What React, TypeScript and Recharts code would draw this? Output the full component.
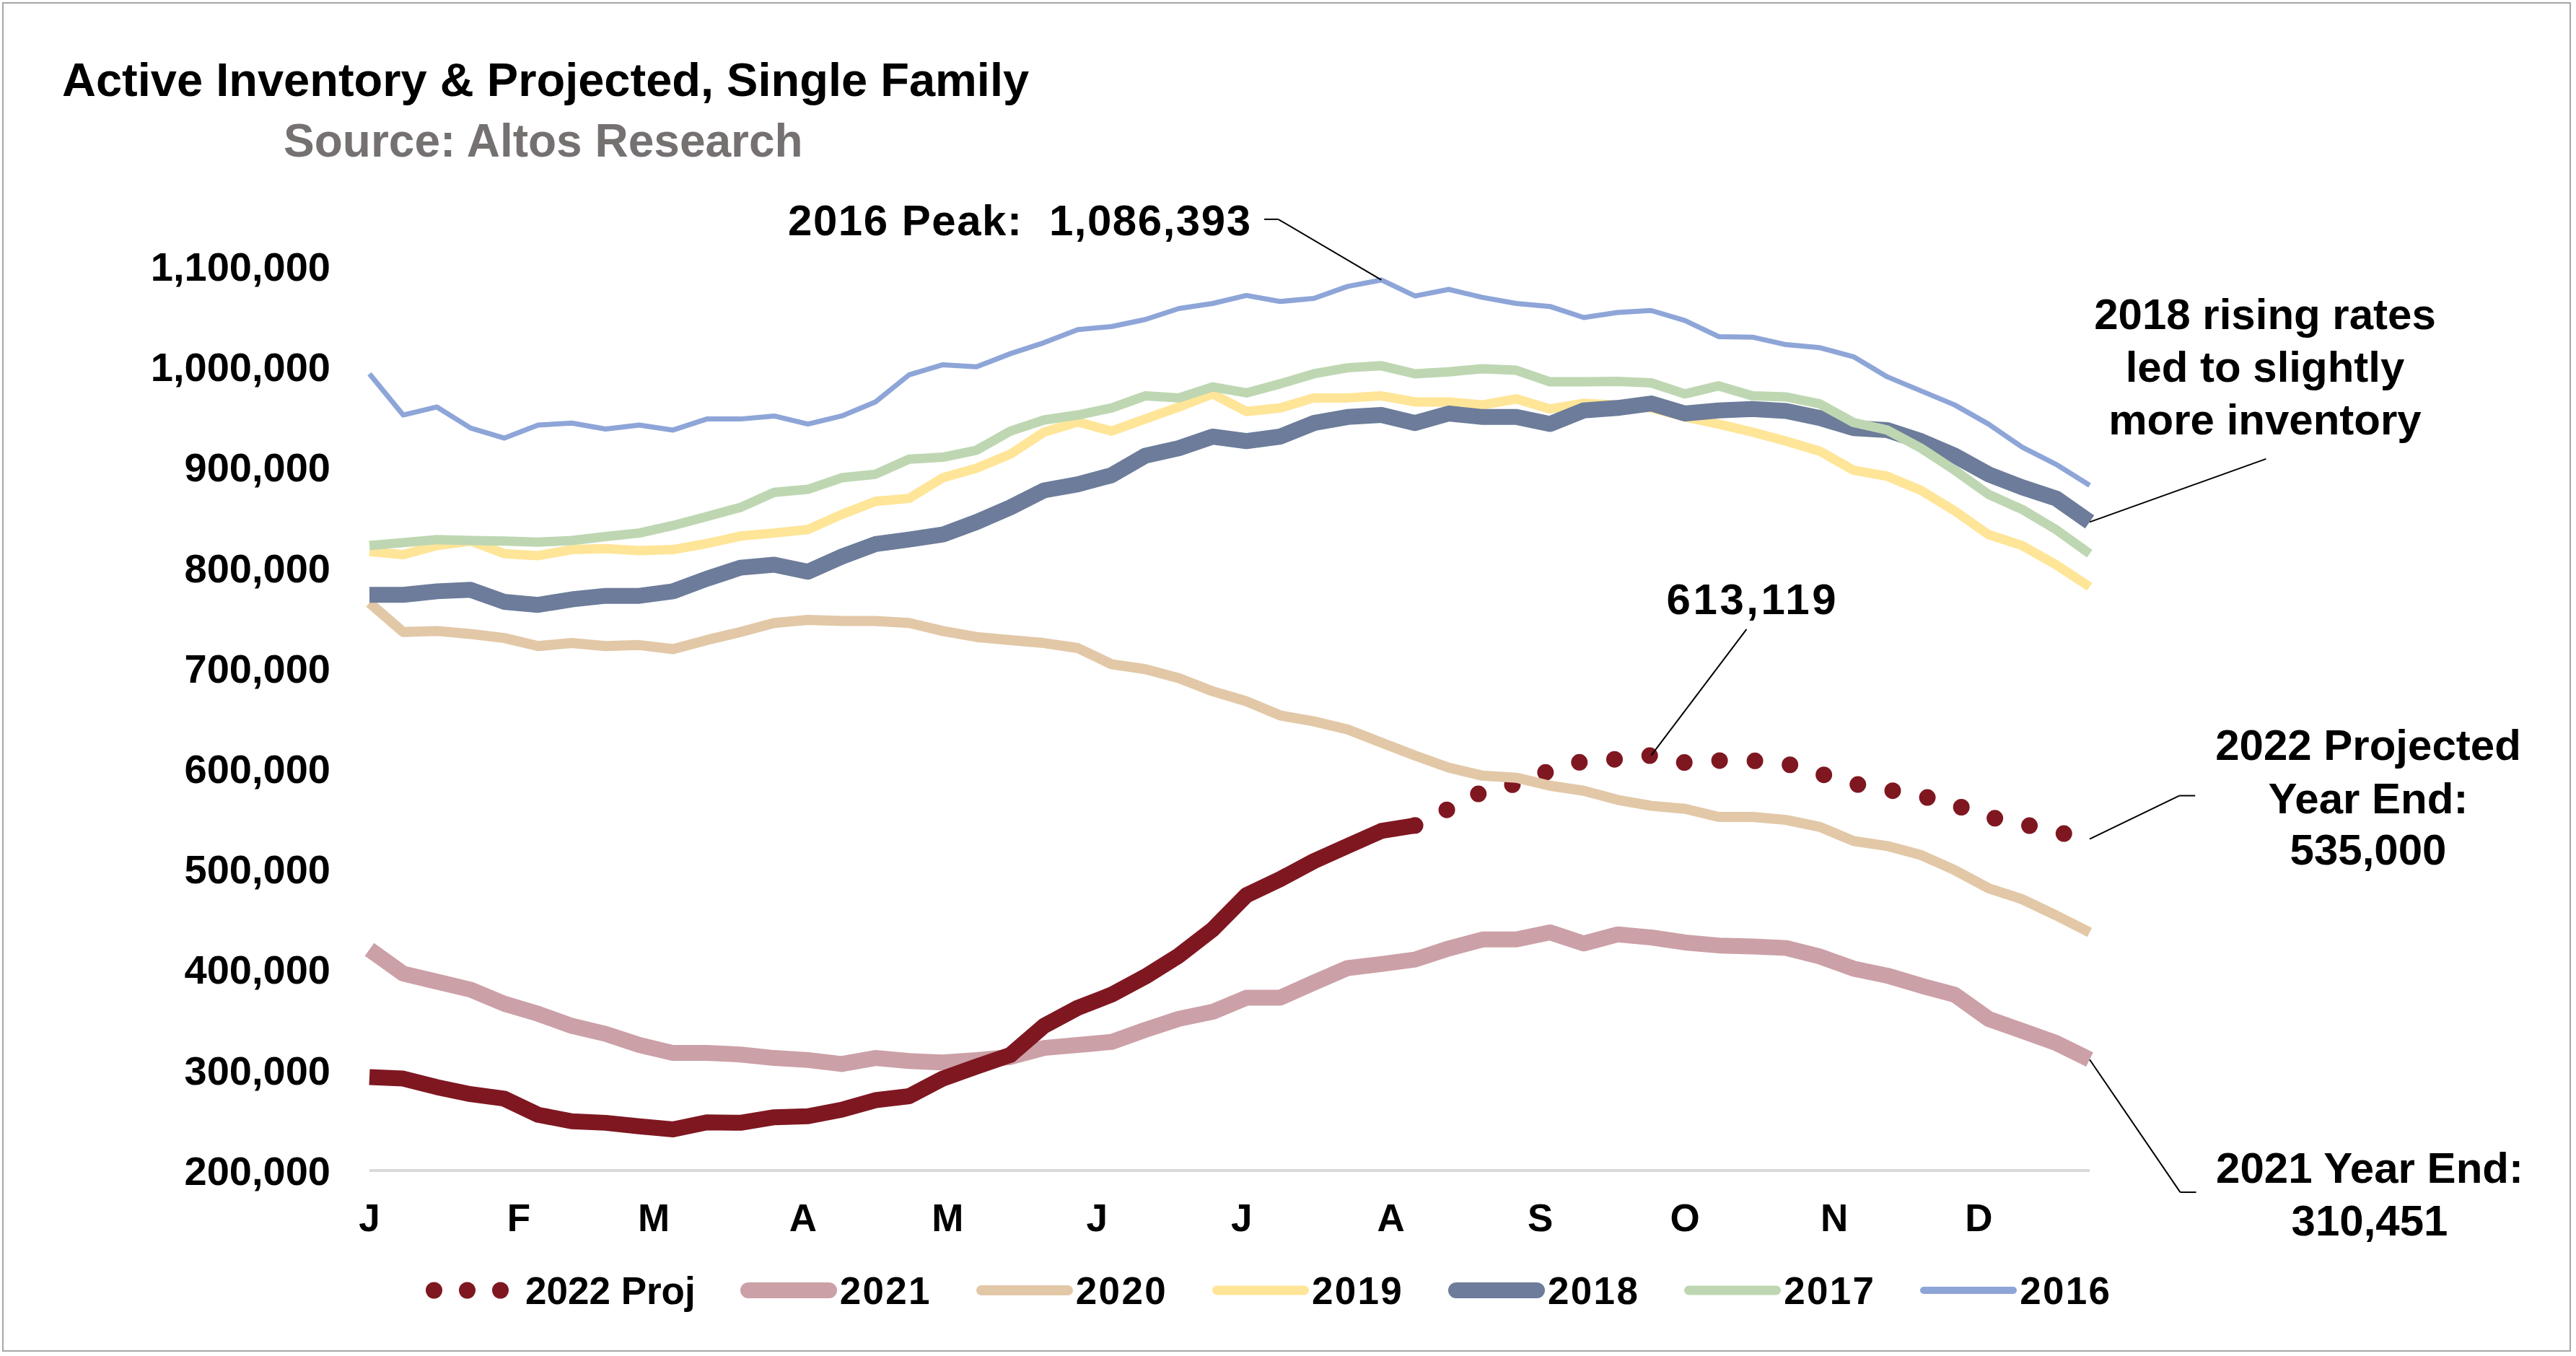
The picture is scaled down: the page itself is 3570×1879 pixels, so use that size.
import React from 'react';
import { LineChart, Line, XAxis, YAxis, ReferenceLine, Legend } from 'recharts';

const FONT = '"Liberation Sans", Arial, sans-serif';

// x axis: day of year, one reading per week
const monthStarts = [0, 31, 59, 90, 120, 151, 181, 212, 243, 273, 304, 334];
const monthLabels = ['J', 'F', 'M', 'A', 'M', 'J', 'J', 'A', 'S', 'O', 'N', 'D'];
const yTicks = [200000, 300000, 400000, 500000, 600000, 700000, 800000, 900000, 1000000, 1100000];

// weekly active inventory, thousands of single family homes
const inv2016 = [993, 952, 960, 939, 929, 942, 944, 938, 942, 937, 948, 948, 951, 943, 951, 965, 992, 1002, 1000, 1013, 1024, 1037, 1040, 1047, 1058, 1063, 1071, 1065, 1068, 1080, 1086.393, 1070.5, 1077, 1069, 1063, 1060, 1049, 1054, 1056, 1046, 1030, 1029.5, 1022, 1019, 1010, 990, 976, 962, 943, 920, 903, 882];
const inv2017 = [822, 825, 828, 827, 826.5, 825.5, 827, 831, 834.5, 842, 851, 860, 875, 878, 889.5, 893, 908, 910, 917, 936, 947, 952, 959, 971, 969, 980, 974, 983, 993, 999, 1001, 993, 995, 998, 996.5, 985, 985, 985.5, 984, 973, 981, 971, 970, 963, 944.5, 937, 919, 897, 873, 858, 838, 814];
const inv2018 = [773, 773, 776.5, 778, 766, 763, 768.5, 772, 772, 776.5, 789, 800, 803, 796, 811, 823.5, 828, 833, 845.5, 860, 877, 883, 892, 911.5, 919, 930.5, 926, 930.5, 944, 950, 952, 944, 953.5, 950, 950, 943, 956.5, 959, 963.5, 953.5, 956.5, 958, 956, 949, 939, 937, 926, 911.5, 893, 880, 869, 845.5];
const inv2019 = [816, 813, 822, 826.5, 814, 812, 818, 819, 817, 818, 824, 831.5, 834.5, 838, 853, 866, 869, 889.5, 899, 913, 935, 945, 936, 948, 960, 973, 955.5, 959, 969, 969, 971, 965, 965, 962, 968, 958, 963.5, 962, 959, 950, 943, 935, 926, 916, 897, 891, 877, 856.5, 833, 822, 803, 781];
const inv2020 = [765, 736, 737, 734, 730, 722, 725, 722, 723, 719, 728, 736, 745, 748, 747, 747, 745, 737, 731, 728, 725, 720, 704, 699, 690, 677, 667, 653, 647, 639, 626, 613, 601, 593, 591, 583, 578, 569, 563, 560, 552, 552, 549, 542, 528, 523, 514, 499, 481, 470, 454, 437];
const inv2021 = [420, 396, 388, 380, 366, 356, 344, 336, 325, 317, 317, 315.5, 312, 310, 306, 312, 309, 307.5, 310, 313, 322, 325, 328, 340, 351, 358, 372, 372, 387, 401.5, 405.5, 410, 421, 430, 430, 437, 426, 435, 432, 427, 424, 423, 421.5, 413, 401, 394, 384, 375, 351, 339, 327, 310.451];
const inv2022 = [293, 291.5, 283, 276, 271.5, 255.5, 249, 247.5, 244, 241, 248, 247.5, 253, 254, 260.5, 270, 274, 291.5, 303.5, 315, 344, 362, 375, 393, 414, 440, 474, 490, 508, 523, 538, 543.5];
// projection picks up at the last actual week
const PROJ_START = 31;
const proj2022 = [543.5, 560, 577, 585, 598, 607.5, 609.5, 613.119, 606, 608, 608, 605, 595, 585, 579, 573, 564, 552, 545, 537, 530];

const data = inv2016.map((_, i) => ({
  day: i * 7,
  y2016: inv2016[i] * 1000,
  y2017: inv2017[i] * 1000,
  y2018: inv2018[i] * 1000,
  y2019: inv2019[i] * 1000,
  y2020: inv2020[i] * 1000,
  y2021: inv2021[i] * 1000,
  y2022: i < inv2022.length ? inv2022[i] * 1000 : null,
  proj: i >= PROJ_START ? proj2022[i - PROJ_START] * 1000 : null,
}));

const last = data.length - 1;

// legend order = series order
const SERIES = [
  { key: 'proj', name: '2022 Proj', color: '#7f1721', width: 23, dotted: true },
  { key: 'y2021', name: '2021', color: '#cca0a7', width: 22 },
  { key: 'y2020', name: '2020', color: '#e2c8a7', width: 14 },
  { key: 'y2019', name: '2019', color: '#ffe598', width: 13 },
  { key: 'y2018', name: '2018', color: '#6c7c9a', width: 22 },
  { key: 'y2017', name: '2017', color: '#bed7b2', width: 13 },
  { key: 'y2016', name: '2016', color: '#8ea5d8', width: 7 },
];

const renderLegend = () => (
  <div
    style={{
      display: 'flex',
      alignItems: 'center',
      height: 60,
      fontFamily: FONT,
      fontWeight: 700,
      fontSize: 53,
      color: '#000',
      whiteSpace: 'nowrap',
    }}
  >
    {SERIES.map(s => (
      <div key={s.key} style={{ display: 'flex', alignItems: 'center', marginRight: 62 }}>
        {s.dotted ? (
          <svg width={116} height={30}>
            {[11.5, 57.5, 103.5].map(cx => (
              <circle key={cx} cx={cx} cy={15} r={11.5} fill={s.color} />
            ))}
          </svg>
        ) : (
          <svg width={134} height={30}>
            <line
              x1={Math.max(s.width, 10) / 2}
              x2={134 - Math.max(s.width, 10) / 2}
              y1={15}
              y2={15}
              stroke={s.color}
              strokeWidth={Math.max(s.width, 10)}
              strokeLinecap="round"
            />
          </svg>
        )}
        <span style={{ marginLeft: s.dotted ? 22 : 4, letterSpacing: s.dotted ? 0 : 2.3 }}>{s.name}</span>
      </div>
    ))}
  </div>
);

const leader = { stroke: '#000', strokeWidth: 2, ifOverflow: 'visible' as const };

const textStyle: React.CSSProperties = { fontFamily: FONT, fontWeight: 700, whiteSpace: 'pre' };

export default function App() {
  const drawOrder = ['proj', 'y2021', 'y2020', 'y2019', 'y2018', 'y2017', 'y2016'];
  return (
    <div style={{ position: 'absolute', left: 0, top: 0, width: 3570, height: 1879, overflow: 'hidden', background: '#fff' }}>
      <div
        style={{
          position: 'absolute',
          left: 3,
          top: 3,
          width: 3560,
          height: 1870,
          border: '2px solid #a6a6a6',
          boxSizing: 'border-box',
        }}
      />
      <LineChart width={3570} height={1879} data={data} margin={{ top: 369, right: 674, bottom: 0, left: 0 }}>
        <XAxis
          dataKey="day"
          type="number"
          domain={[0, 357]}
          ticks={monthStarts}
          tickFormatter={(v: number) => monthLabels[monthStarts.indexOf(v)]}
          interval={0}
          height={257}
          axisLine={{ stroke: '#d9d9d9', strokeWidth: 4 }}
          tickLine={false}
          tickSize={0}
          tickMargin={46}
          tick={{ fill: '#000', fontSize: 53, fontWeight: 700, fontFamily: FONT }}
        />
        <YAxis
          type="number"
          domain={[200000, 1100000]}
          ticks={yTicks}
          interval={0}
          width={512}
          axisLine={false}
          tickLine={false}
          tickSize={0}
          tickMargin={54}
          tickFormatter={(v: number) => v.toLocaleString('en-US')}
          tick={{ fill: '#000', fontSize: 56, fontWeight: 700, fontFamily: FONT }}
        />
        <Legend
          verticalAlign="middle"
          align="center"
          layout="horizontal"
          content={renderLegend}
          wrapperStyle={{ left: 590, top: 1758, width: 2600, height: 60 }}
        />
        {drawOrder.map(k => {
          const s = SERIES.find(x => x.key === k)!;
          return (
            <Line
              key={k}
              dataKey={k}
              name={s.name}
              stroke={s.color}
              strokeWidth={s.width}
              strokeLinejoin="round"
              strokeLinecap={s.dotted ? 'round' : 'butt'}
              strokeDasharray={s.dotted ? '0 49' : undefined}
              dot={false}
              activeDot={false}
              isAnimationActive={false}
            />
          );
        })}
        <Line
          dataKey="y2022"
          name="2022"
          stroke="#7f1721"
          strokeWidth={22}
          strokeLinejoin="round"
          dot={false}
          activeDot={false}
          legendType="none"
          isAnimationActive={false}
        />
        {/* annotation leaders, anchored at the data points */}
        <ReferenceLine {...leader} segment={[{ x: 185.7, y: 1146800 }, { x: 188.6, y: 1146800 }]} />
        <ReferenceLine {...leader} segment={[{ x: 188.6, y: 1146800 }, { x: data[30].day, y: data[30].y2016 }]} />
        <ReferenceLine {...leader} segment={[{ x: 285.8, y: 738800 }, { x: data[38].day, y: data[38].proj as number }]} />
        <ReferenceLine {...leader} segment={[{ x: data[last].day, y: data[last].y2018 }, { x: 393.6, y: 908300 }]} />
        <ReferenceLine {...leader} segment={[{ x: data[last].day, y: data[last].proj as number }, { x: 375.6, y: 573100 }]} />
        <ReferenceLine {...leader} segment={[{ x: 375.6, y: 573100 }, { x: 378.9, y: 573100 }]} />
        <ReferenceLine {...leader} segment={[{ x: data[last].day, y: data[last].y2021 }, { x: 375.8, y: 178400 }]} />
        <ReferenceLine {...leader} segment={[{ x: 375.8, y: 178400 }, { x: 379.1, y: 178400 }]} />
      </LineChart>
      <svg width={3570} height={1879} style={{ position: 'absolute', left: 0, top: 0, pointerEvents: 'none' }}>
        <text x={86} y={133} fontSize={65} fill="#000" style={textStyle}>
          Active Inventory &amp; Projected, Single Family
        </text>
        <text x={393} y={217} fontSize={64} fill="#767171" style={textStyle}>
          Source: Altos Research
        </text>
        <text x={1733} y={326} fontSize={60} textAnchor="end" textLength={641} lengthAdjust="spacing" style={textStyle}>
          {'2016 Peak:  1,086,393'}
        </text>
        <text x={2427} y={851} fontSize={60} textAnchor="middle" textLength={235} lengthAdjust="spacing" style={textStyle}>
          613,119
        </text>
        <text x={3139} fontSize={60} textAnchor="middle" style={textStyle}>
          <tspan x={3139} y={456}>2018 rising rates</tspan>
          <tspan x={3139} y={529}>led to slightly</tspan>
          <tspan x={3139} y={602}>more inventory</tspan>
        </text>
        <text x={3282} fontSize={60} textAnchor="middle" style={textStyle}>
          <tspan x={3282} y={1053}>2022 Projected</tspan>
          <tspan x={3282} y={1127}>Year End:</tspan>
          <tspan x={3282} y={1198}>535,000</tspan>
        </text>
        <text x={3284} fontSize={60} textAnchor="middle" style={textStyle}>
          <tspan x={3284} y={1639}>2021 Year End:</tspan>
          <tspan x={3284} y={1712}>310,451</tspan>
        </text>
      </svg>
    </div>
  );
}
